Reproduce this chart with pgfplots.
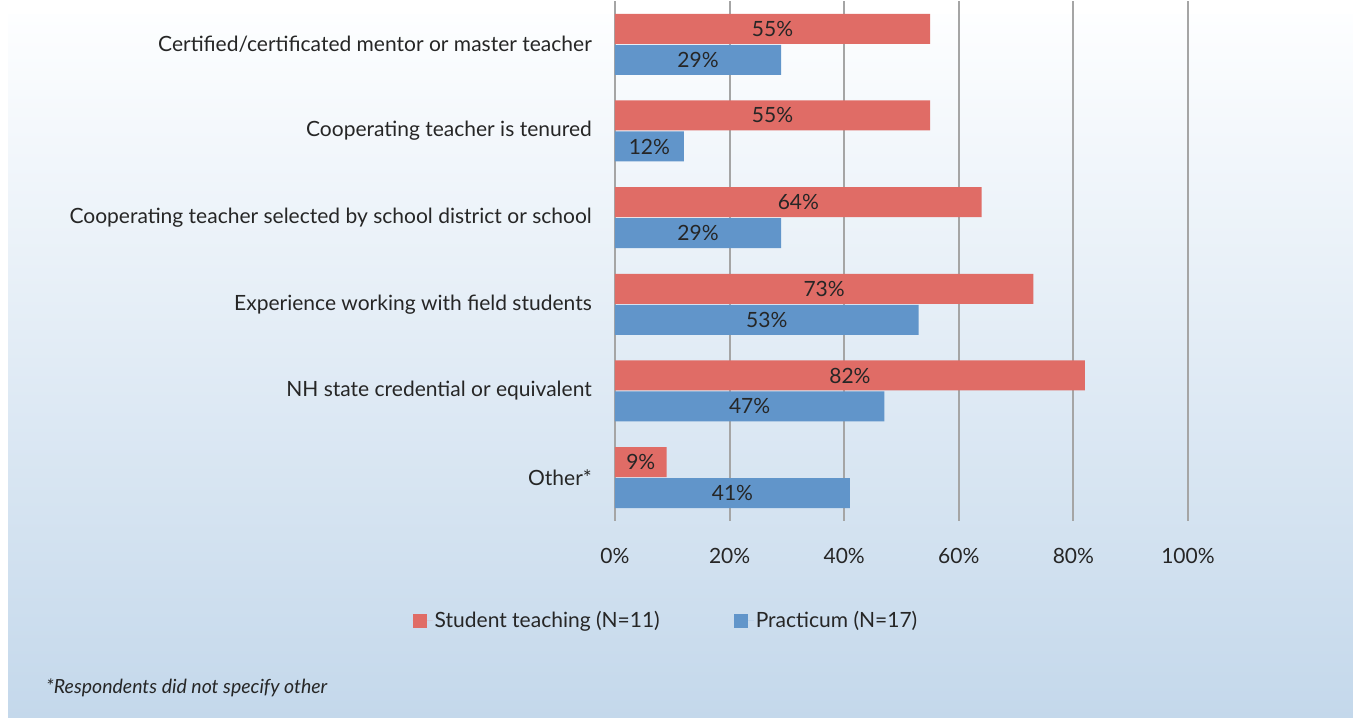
\documentclass[border=0pt]{standalone}
\usepackage{pgfplots}
\pgfplotsset{compat=1.18}
\usepackage{fontspec}
\setmainfont{Lato}
\definecolor{redbar}{RGB}{224,108,102}
\definecolor{bluebar}{RGB}{97,149,202}
\definecolor{txt}{RGB}{38,38,38}
\definecolor{gridc}{RGB}{165,165,165}
\definecolor{bgtop}{RGB}{253,254,255}
\definecolor{bgbot}{RGB}{196,216,235}
\begin{document}
\fontsize{21}{25}\selectfont
\begin{tikzpicture}[x=1pt,y=1pt]
\fill[white] (0,0) rectangle (1353,717);
\shade[top color=bgtop, bottom color=bgbot] (8,0) rectangle (1353,703);
\begin{axis}[
  at={(615pt,197pt)}, anchor=south west,
  scale only axis, width=573pt, height=520pt,
  xbar, bar width=30pt, clip=false,
  /pgf/number format/assume math mode=true,
  xmin=0, xmax=100, ymin=-0.5, ymax=5.5,
  xtick={0,20,40,60,80,100},
  xticklabel={\pgfmathprintnumber{\tick}\%},
  ytick={0,1,2,3,4,5},
  yticklabels={Other*, NH state credential or equivalent, Experience working with field students, Cooperating teacher selected by school district or school, Cooperating teacher is tenured, Certified/certificated mentor or master teacher},
  axis line style={draw=none},
  major tick length=0pt,
  xmajorgrids, major grid style={gridc, line width=2pt},
  tick label style={text=txt, font=\fontsize{21}{25}\selectfont},
  xticklabel style={yshift=-20pt},
  yticklabel style={xshift=-16pt},
  point meta=x,
  nodes near coords={\pgfmathprintnumber{\pgfplotspointmeta}\%},
  visualization depends on={x \as \rawx},
  every node near coord/.append style={anchor=center, text=txt, font=\fontsize{21}{25}\selectfont, shift={(axis direction cs:-\rawx/2,0)}},
  legend style={at={(0.089,-0.192)}, anchor=center, draw=none, fill=none, text=txt, font=\fontsize{21}{25}\selectfont, legend columns=2, /tikz/every even column/.append style={column sep=72pt}},
  legend image code/.code={\fill[#1] (0pt,-7pt) rectangle (14pt,7pt); \path (0pt,0pt) -- (20pt,0pt);},
]
\addplot[fill=redbar, draw=none, bar shift=15.5pt] coordinates {(55,5) (55,4) (64,3) (73,2) (82,1) (9,0)};
\addlegendentry{Student teaching (N=11)}
\addplot[fill=bluebar, draw=none, bar shift=-15.5pt] coordinates {(29,5) (12,4) (29,3) (53,2) (47,1) (41,0)};
\addlegendentry{Practicum (N=17)}
\end{axis}
\node[anchor=west, text=txt, inner sep=0pt, font=\fontsize{19.5}{23}\selectfont\itshape] at (46,30) {*Respondents did not specify other};
\end{tikzpicture}
\end{document}
